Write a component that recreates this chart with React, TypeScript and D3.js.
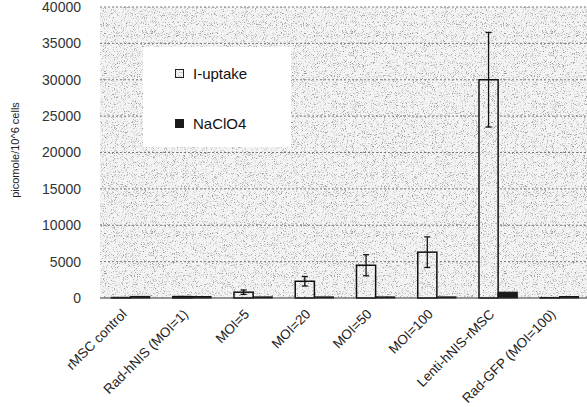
import React from "react";
import * as d3 from "d3";

const categories = [
  "rMSC control",
  "Rad-hNIS (MOI=1)",
  "MOI=5",
  "MOI=20",
  "MOI=50",
  "MOI=100",
  "Lenti-hNIS-rMSC",
  "Rad-GFP (MOI=100)",
];
const seriesNames = ["I-uptake", "NaClO4"];
const iUptake = [60, 200, 800, 2300, 4500, 6300, 30000, 40];
const iUptakeErr = [0, 0, 300, 650, 1450, 2100, 6500, 0];
const naClO4 = [220, 200, 150, 150, 150, 150, 800, 200];
const yTicks = [0, 5000, 10000, 15000, 20000, 25000, 30000, 35000, 40000];

const W = 587;
const H = 407;
const M = { left: 100, right: -3, top: 7, bottom: 109 };

export default function App() {
  const x = d3
    .scaleBand<string>()
    .domain(categories)
    .range([M.left, W - M.right])
    .paddingInner(0.375)
    .paddingOuter(0.1875);
  const y = d3.scaleLinear().domain([0, 40000]).range([H - M.bottom, M.top]);
  const bw = x.bandwidth() / 2;
  const font = "'Liberation Sans', Arial, sans-serif";
  const plotRight = W - M.right;

  return (
    <div style={{ position: "absolute", left: 0, top: 0, width: W, height: H, background: "#fff" }}>
      <svg width={W} height={H} style={{ display: "block" }}>
        <defs>
          <filter
            id="grain"
            x="0"
            y="0"
            width="100%"
            height="100%"
            colorInterpolationFilters="sRGB"
          >
            <feTurbulence type="fractalNoise" baseFrequency="1.1" numOctaves="2" seed="5" result="n" />
            <feColorMatrix
              in="n"
              type="matrix"
              values="0 0 0 0 0  0 0 0 0 0  0 0 0 0 0  -4 0 0 0 1.8"
              result="a"
            />
            <feComposite in="SourceGraphic" in2="a" operator="in" />
          </filter>
          <pattern id="bg" patternUnits="userSpaceOnUse" width="200" height="200">
            <rect width="200" height="200" fill="#f4f4f4" />
            <rect width="200" height="200" fill="#959595" filter="url(#grain)" />
          </pattern>
        </defs>
        {/* plot background */}
        <rect
          x={M.left}
          y={M.top}
          width={plotRight - M.left}
          height={y(0) - M.top}
          fill="url(#bg)"
        />
        {/* gridlines */}
        {yTicks.slice(1).map((t) => (
          <line
            key={t}
            x1={M.left}
            x2={plotRight}
            y1={y(t)}
            y2={y(t)}
            stroke="#7a7a7a"
            strokeWidth={1}
            strokeDasharray="2,2"
          />
        ))}
        {/* legend */}
        <rect x={143} y={47} width={148} height={100} fill="#fff" />
        <rect x={175.5} y={69.5} width={8} height={8} fill="url(#bg)" stroke="#222" strokeWidth={1} />
        <text x={193} y={79} fontFamily={font} fontSize={15} fill="#111">
          {seriesNames[0]}
        </text>
        <rect x={175} y={119} width={9} height={9} fill="#1a1a1a" />
        <text x={193} y={129} fontFamily={font} fontSize={15} fill="#111">
          {seriesNames[1]}
        </text>
        {/* bars */}
        {categories.map((c, i) => {
          const x0 = x(c)!;
          return (
            <g key={c}>
              <rect
                x={x0}
                y={y(iUptake[i])}
                width={bw}
                height={y(0) - y(iUptake[i])}
                fill="url(#bg)"
                stroke="#111"
                strokeWidth={1.5}
              />
              <rect
                x={x0 + bw}
                y={y(naClO4[i])}
                width={bw}
                height={y(0) - y(naClO4[i])}
                fill="#1a1a1a"
                stroke="#111"
                strokeWidth={1}
              />
              {iUptakeErr[i] > 0 && (
                <g stroke="#111" strokeWidth={1.3}>
                  <line
                    x1={x0 + bw / 2}
                    x2={x0 + bw / 2}
                    y1={y(iUptake[i] + iUptakeErr[i])}
                    y2={y(iUptake[i] - iUptakeErr[i])}
                  />
                  <line
                    x1={x0 + bw / 2 - 3}
                    x2={x0 + bw / 2 + 3}
                    y1={y(iUptake[i] + iUptakeErr[i])}
                    y2={y(iUptake[i] + iUptakeErr[i])}
                  />
                  <line
                    x1={x0 + bw / 2 - 3}
                    x2={x0 + bw / 2 + 3}
                    y1={y(iUptake[i] - iUptakeErr[i])}
                    y2={y(iUptake[i] - iUptakeErr[i])}
                  />
                </g>
              )}
            </g>
          );
        })}
        {/* baseline */}
        <line x1={M.left} x2={plotRight} y1={y(0)} y2={y(0)} stroke="#333" strokeWidth={1} />
        {/* y tick labels */}
        {yTicks.map((t) => (
          <text
            key={t}
            x={81}
            y={y(t)}
            dy="0.35em"
            textAnchor="end"
            fontFamily={font}
            fontSize={14}
            fill="#333"
          >
            {t}
          </text>
        ))}
        {/* y axis title */}
        <text
          transform={`translate(19,${150}) rotate(-90)`}
          textAnchor="middle"
          fontFamily={font}
          fontSize={11}
          fill="#222"
        >
          picomole/10^6 cells
        </text>
        {/* x labels */}
        {categories.map((c) => {
          const cx = x(c)! + bw - 3;
          return (
            <text
              key={c}
              transform={`translate(${cx},${315}) rotate(-45)`}
              textAnchor="end"
              fontFamily={font}
              fontSize={13.5}
              fill="#222"
            >
              {c}
            </text>
          );
        })}
      </svg>
    </div>
  );
}
